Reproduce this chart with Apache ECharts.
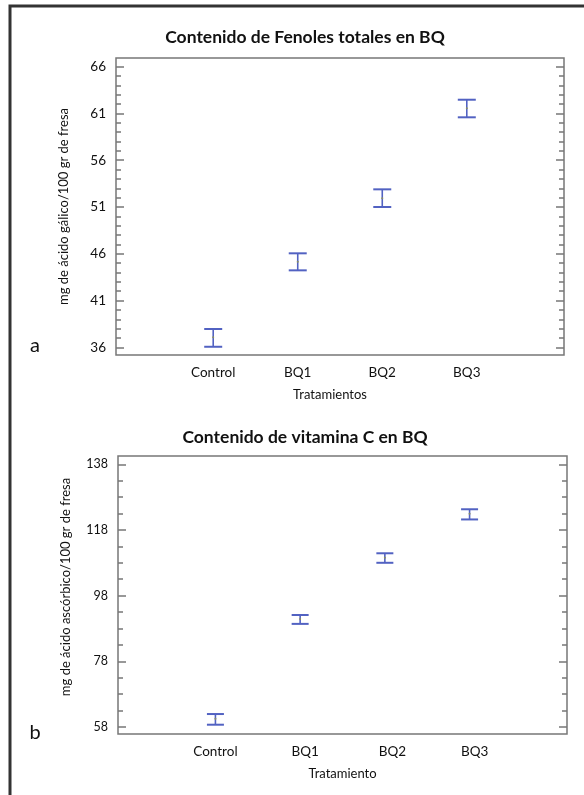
<!DOCTYPE html>
<html>
<head>
<meta charset="utf-8">
<script src="https://cdn.jsdelivr.net/npm/echarts@6/dist/echarts.min.js"></script>
<style>html,body{margin:0;padding:0;background:#fff}#c{width:584px;height:795px}</style>
</head>
<body>
<div id="c"></div>
<script>
// ---- data ----
var categories = ['Control', 'BQ1', 'BQ2', 'BQ3'];
var fenolesMean = [37.07, 45.15, 51.93, 61.55];
var fenolesLow  = [36.06, 44.23, 51.00, 60.59];
var fenolesHigh = [37.96, 46.05, 52.89, 62.47];
var vitCMean = [60.5, 90.9, 109.5, 122.9];
var vitCLow  = [58.7, 89.4, 108.0, 121.2];
var vitCHigh = [61.95, 92.1, 110.9, 124.3];
var fenolesTicks = [36, 41, 46, 51, 56, 61, 66];
var vitCTicks = [58, 78, 98, 118, 138];

function minorTicks(major, step) {
  var out = [];
  for (var i = 0; i < major.length - 1; i++) {
    for (var v = major[i] + step; v < major[i + 1] - 1e-9; v += step) out.push(Math.round(v * 100) / 100);
  }
  return out;
}

var FONT = 'Lato';
var AXC = '#777';
var BLUE = '#5262c2';

function build(arrMean, arrLow, arrHigh) {
  return categories.map(function (c, i) { return [i, arrLow[i], arrHigh[i], arrMean[i]]; });
}

function errRender(capW) {
  return function (params, api) {
    var x = api.value(0);
    var lo = api.coord([x, api.value(1)]);
    var hi = api.coord([x, api.value(2)]);
    var mid = api.coord([x, api.value(3)]);
    var h = capW / 2;
    var st = { stroke: BLUE, lineWidth: 2 };
    return {
      type: 'group',
      children: [
        { type: 'line', shape: { x1: hi[0] - h, y1: hi[1], x2: hi[0] + h, y2: hi[1] }, style: st },
        { type: 'line', shape: { x1: lo[0] - h, y1: lo[1], x2: lo[0] + h, y2: lo[1] }, style: st },
        { type: 'line', shape: { x1: hi[0], y1: hi[1], x2: lo[0], y2: lo[1] }, style: { stroke: BLUE, lineWidth: 1.6 } },
        { type: 'circle', shape: { cx: mid[0], cy: mid[1], r: 1 }, style: { fill: '#8a8f60' } }
      ]
    };
  };
}

function yAxes(gridIndex, min, max, major, minor, labelSize) {
  var base = {
    type: 'value', gridIndex: gridIndex, min: min, max: max,
    axisLine: { show: false, onZero: false }, splitLine: { show: false }
  };
  function ax(pos, vals, len, showLabel) {
    var a = Object.assign({}, base, {
      position: pos,
      axisTick: { show: true, inside: true, length: len, customValues: vals, lineStyle: { color: AXC, width: 1.5 } },
      axisLabel: showLabel
        ? { show: true, customValues: vals, margin: 10, color: '#111', fontFamily: FONT, fontSize: labelSize }
        : { show: false }
    });
    return a;
  }
  return [ax('left', major, 8, true), ax('left', minor, 5, false), ax('right', major, 8, false), ax('right', minor, 5, false)];
}

var yA = yAxes(0, 35.18, 66.93, fenolesTicks, minorTicks(fenolesTicks, 1), 13.5);
yA[0].name = 'mg de ácido gálico/100 gr de fresa';
yA[0].nameLocation = 'middle';
yA[0].nameGap = 46;
yA[0].nameTextStyle = { fontFamily: FONT, fontSize: 13, color: '#111' };

var yB = yAxes(1, 55.87, 140.52, vitCTicks, minorTicks(vitCTicks, 5), 12.5);
yB[0].name = 'mg de ácido ascórbico/100 gr de fresa';
yB[0].nameLocation = 'middle';
yB[0].nameGap = 46;
yB[0].nameTextStyle = { fontFamily: FONT, fontSize: 13, color: '#111', padding: [0, 0, 0, 16] };

function xAxis(gridIndex, name, labelVals, namePad) {
  return {
    type: 'value', gridIndex: gridIndex, min: -1.15, max: 4.15,
    axisLine: { show: false, onZero: false }, axisTick: { show: false }, splitLine: { show: false },
    axisLabel: {
      customValues: labelVals, margin: 11, color: '#111', fontFamily: FONT, fontSize: 13.5,
      formatter: function (v) { return categories[Math.round(v)] || ''; }
    },
    name: name, nameLocation: 'middle', nameGap: 33,
    nameTextStyle: { fontFamily: FONT, fontSize: 13, color: '#111', padding: namePad }
  };
}

var option = {
  backgroundColor: '#fff',
  animation: false,
  grid: [
    { left: 116, right: 20, top: 58, height: 297, show: true, borderColor: AXC, borderWidth: 1.5, backgroundColor: 'transparent' },
    { left: 118, right: 17, top: 456, height: 278, show: true, borderColor: AXC, borderWidth: 1.5, backgroundColor: 'transparent' }
  ],
  xAxis: [
    xAxis(0, 'Tratamientos', [0, 1, 2, 3], [0, 20, 0, 0]),
    xAxis(1, 'Tratamiento', [0, 1.06, 2.09, 3.06], [0, 0, 0, 0])
  ],
  yAxis: yA.concat(yB),
  series: [
    { type: 'custom', xAxisIndex: 0, yAxisIndex: 0, renderItem: errRender(18), encode: { x: 0, y: [1, 2] }, data: build(fenolesMean, fenolesLow, fenolesHigh) },
    { type: 'custom', xAxisIndex: 1, yAxisIndex: 4, renderItem: errRender(17), encode: { x: 0, y: [1, 2] }, data: build(vitCMean, vitCLow, vitCHigh) }
  ],
  graphic: [
    { type: 'polyline', shape: { points: [[10, 800], [10, 6], [590, 6]] }, style: { stroke: '#333', lineWidth: 3, fill: null } },
    { type: 'text', x: 305, y: 37, style: { text: 'Contenido de Fenoles totales en BQ', font: 'bold 17.5px Lato', fill: '#111', textAlign: 'center', textVerticalAlign: 'middle' } },
    { type: 'text', x: 305, y: 437, style: { text: 'Contenido de vitamina C en BQ', font: 'bold 17.5px Lato', fill: '#111', textAlign: 'center', textVerticalAlign: 'middle' } },
    { type: 'text', x: 35, y: 346, style: { text: 'a', font: '20px Lato', fill: '#111', textAlign: 'center', textVerticalAlign: 'middle' } },
    { type: 'text', x: 35, y: 733, style: { text: 'b', font: '20px Lato', fill: '#111', textAlign: 'center', textVerticalAlign: 'middle' } }
  ]
};

var chart = echarts.init(document.getElementById('c'), null, { renderer: 'canvas' });
chart.setOption(option);
</script>
</body>
</html>
